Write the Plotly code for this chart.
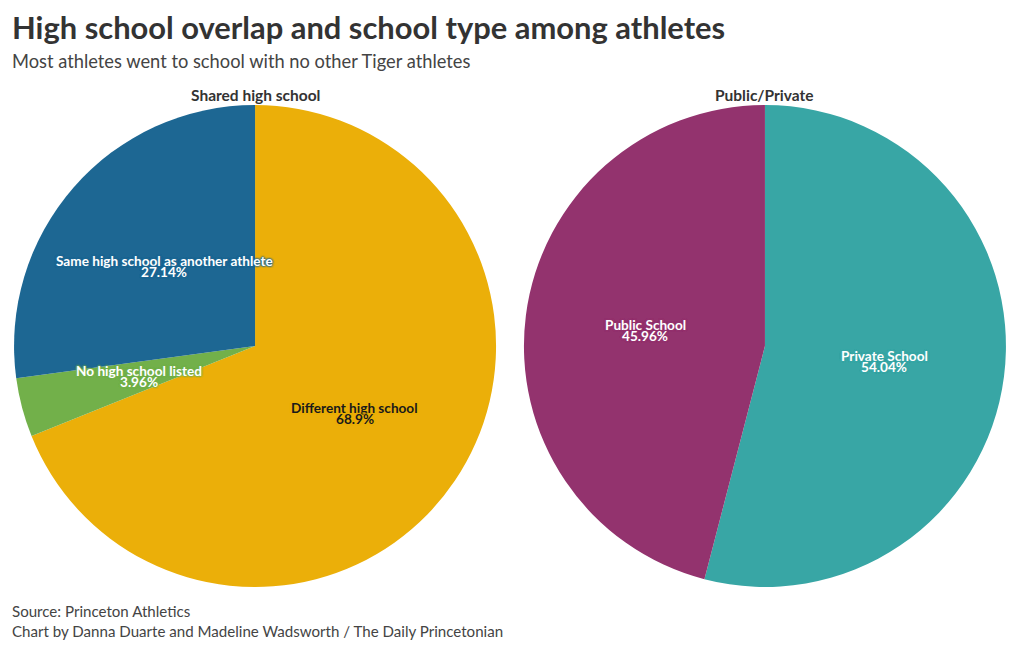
import math
import plotly.graph_objects as go

shared_labels = ["Different high school", "No high school listed", "Same high school as another athlete"]
shared_values = [68.9, 3.96, 27.14]
shared_colors = ["#EBAF09", "#72B04A", "#1D6793"]
shared_text_colors = ["#1a1a1a", "#FFFFFF", "#FFFFFF"]

type_labels = ["Private School", "Public School"]
type_values = [54.04, 45.96]
type_colors = ["#38A6A5", "#93336E"]
type_text_colors = ["#FFFFFF", "#FFFFFF"]

FONT = "Lato"
W, H = 1020, 650
L, R, T, B = 14, 14, 105, 63
pw, ph = W - L - R, H - T - B

def px(x):
    return (x - L) / pw

def py(y):
    return (H - B - y) / ph

fig = go.Figure()
annotations = []

pies = [
    (shared_labels, shared_values, shared_colors, shared_text_colors, [0, 0.486], "Shared high school"),
    (type_labels, type_values, type_colors, type_text_colors, [0.514, 1], "Public/Private"),
]
for labels, values, colors, tcolors, dom, title in pies:
    fig.add_trace(go.Pie(
        labels=labels, values=values, sort=False, direction="clockwise", rotation=0,
        marker=dict(colors=colors, line=dict(width=0)),
        textinfo="none", hoverinfo="label+value", showlegend=False,
        domain=dict(x=dom, y=[0, 1]),
    ))
    # pie geometry in pixels (plotly: radius = half of min domain side)
    dw = (dom[1] - dom[0]) * pw
    r = min(dw, ph) / 2
    cx = L + (dom[0] + dom[1]) / 2 * pw
    cy = T + ph / 2
    total = sum(values)
    cum = 0.0
    for lab, v, col, tc in zip(labels, values, colors, tcolors):
        mid = (cum + v / 2) / total * 2 * math.pi
        cum += v
        lx = cx + 0.5 * r * math.sin(mid)
        ly = cy - 0.5 * r * math.cos(mid)
        halo = ", ".join(["0 0 2px " + col] * 4)
        for txt, dy in ((lab, -5.5), ("%g%%" % v, 5.5)):
            annotations.append(dict(
                text="<b>%s</b>" % txt, x=px(lx), y=py(ly + dy),
                xref="paper", yref="paper", showarrow=False, xanchor="center", yanchor="middle",
                font=dict(size=13.6, color=tc, family=FONT, shadow=halo),
            ))
    annotations.append(dict(
        text="<b>%s</b>" % title, x=px(cx), y=py(95), xref="paper", yref="paper",
        showarrow=False, font=dict(size=15.5, color="#333333", family=FONT),
        xanchor="center", yanchor="middle",
    ))

annotations += [
    dict(text="<b>High school overlap and school type among athletes</b>", x=px(10), y=py(28),
         font=dict(size=30.9, color="#333333", family=FONT)),
    dict(text="Most athletes went to school with no other Tiger athletes", x=px(10), y=py(61),
         font=dict(size=18.3, color="#444444", family=FONT)),
    dict(text="Source: Princeton Athletics", x=px(10), y=py(611),
         font=dict(size=15.1, color="#444444", family=FONT)),
    dict(text="Chart by Danna Duarte and Madeline Wadsworth / The Daily Princetonian", x=px(10), y=py(631),
         font=dict(size=15.1, color="#444444", family=FONT)),
]
for a in annotations[-4:]:
    a.update(xref="paper", yref="paper", showarrow=False, xanchor="left", yanchor="middle")

fig.update_layout(
    width=W, height=H,
    margin=dict(l=L, r=R, t=T, b=B),
    paper_bgcolor="white", plot_bgcolor="white",
    font=dict(family=FONT, color="#333333"),
    annotations=annotations,
)

fig.write_html("out.html", config={"displayModeBar": False},
               post_script="document.body.style.margin='0';document.body.style.overflow='hidden';")
